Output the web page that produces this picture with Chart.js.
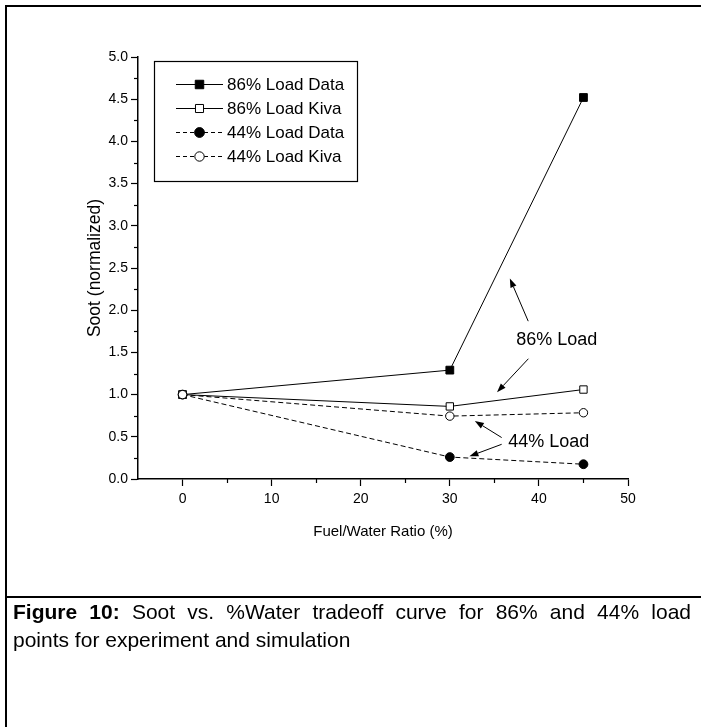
<!DOCTYPE html>
<html>
<head>
<meta charset="utf-8">
<script src="https://cdn.jsdelivr.net/npm/chart.js@4/dist/chart.umd.min.js"></script>
<style>
html,body{margin:0;padding:0;background:#fff;}
#wrap{position:relative;width:701px;height:727px;overflow:hidden;background:#fff;font-family:"Liberation Sans",Arial,Helvetica,sans-serif;}
#c{position:absolute;left:0;top:0;}
.ln{position:absolute;background:#000;}
#cap{position:absolute;left:13px;top:598px;width:678px;font-size:21px;line-height:28px;color:#000;}
#cap .l1{text-align:justify;text-align-last:justify;white-space:nowrap;}
</style>
</head>
<body>
<div id="wrap">
  <canvas id="c" width="701" height="727"></canvas>
  <div class="ln" style="left:5px;top:5px;width:696px;height:2px;"></div>
  <div class="ln" style="left:5px;top:5px;width:2px;height:722px;"></div>
  <div class="ln" style="left:5px;top:596px;width:696px;height:2px;"></div>
  <div id="cap">
    <div class="l1"><b>Figure 10:</b> Soot vs. %Water tradeoff curve for 86% and 44% load</div>
    <div>points for experiment and simulation</div>
  </div>
</div>
<script>
// ---- data ----
const xValues = [0, 30, 45];
const load86Data = [1.00, 1.29, 4.52];
const load86Kiva = [1.00, 0.86, 1.06];
const load44Data = [1.00, 0.26, 0.175];
const load44Kiva = [1.00, 0.745, 0.785];
const seriesLabels = ['86% Load Data', '86% Load Kiva', '44% Load Data', '44% Load Kiva'];
const xTicks = [0, 10, 20, 30, 40, 50];
const xMinorTicks = [5, 15, 25, 35, 45];
const yTicks = [0, 0.5, 1.0, 1.5, 2.0, 2.5, 3.0, 3.5, 4.0, 4.5, 5.0];
const yMinorTicks = [0.25, 0.75, 1.25, 1.75, 2.25, 2.75, 3.25, 3.75, 4.25, 4.75];
const xTitle = 'Fuel/Water Ratio (%)';
const yTitle = 'Soot (normalized)';
// annotation labels (data coordinates) and their arrows [tailX, tailY, headX, headY]
const noteLabels = ['86% Load', '44% Load'];
const notePos = [[42.0, 1.65], [41.1, 0.441]];
const noteArrows = [
  [[38.8, 1.87, 36.74, 2.376], [38.82, 1.425, 35.3, 1.028]],
  [[35.82, 0.491, 32.81, 0.688], [35.82, 0.411, 32.2, 0.269]]
];

const FONT = '"Liberation Sans", Arial, Helvetica, sans-serif';
const toPts = arr => xValues.map((x, i) => ({x: x, y: arr[i]}));

const datasets = [
  {label: seriesLabels[0], data: toPts(load86Data), borderColor: '#000', borderWidth: 1, borderDash: [],
   pointStyle: 'rect', pointRadius: 5.5, pointBackgroundColor: '#000', pointBorderColor: '#000', pointBorderWidth: 1, order: 3},
  {label: seriesLabels[1], data: toPts(load86Kiva), borderColor: '#000', borderWidth: 1, borderDash: [],
   pointStyle: 'rect', pointRadius: 5.2, pointBackgroundColor: '#fff', pointBorderColor: '#000', pointBorderWidth: 1, order: 1},
  {label: seriesLabels[2], data: toPts(load44Data), borderColor: '#000', borderWidth: 1, borderDash: [5, 3],
   pointStyle: 'circle', pointRadius: 4.4, pointBackgroundColor: '#000', pointBorderColor: '#000', pointBorderWidth: 1, order: 2},
  {label: seriesLabels[3], data: toPts(load44Kiva), borderColor: '#000', borderWidth: 1, borderDash: [5, 3],
   pointStyle: 'circle', pointRadius: 4.2, pointBackgroundColor: '#fff', pointBorderColor: '#000', pointBorderWidth: 1, order: 0}
];
datasets.forEach(d => { d.fill = false; d.tension = 0; d.showLine = true; d.pointHoverRadius = d.pointRadius; });

function markPoint(ctx, style, r, x, y, fillC, strokeC, bw) {
  ctx.save();
  ctx.setLineDash([]);
  ctx.fillStyle = fillC; ctx.strokeStyle = strokeC; ctx.lineWidth = bw;
  ctx.beginPath();
  if (style === 'rect') {
    const s = Math.SQRT1_2 * r;
    ctx.rect(x - s, y - s, 2 * s, 2 * s);
  } else {
    ctx.arc(x, y, r, 0, Math.PI * 2);
  }
  ctx.fill(); ctx.stroke();
  ctx.restore();
}

function arrow(ctx, x1, y1, x2, y2) {
  const a = Math.atan2(y2 - y1, x2 - x1);
  const L = 9, W = 3.2;
  const bx = x2 - L * Math.cos(a), by = y2 - L * Math.sin(a);
  ctx.beginPath(); ctx.moveTo(x1, y1); ctx.lineTo(bx, by); ctx.stroke();
  ctx.beginPath();
  ctx.moveTo(x2, y2);
  ctx.lineTo(bx + W * Math.sin(a), by - W * Math.cos(a));
  ctx.lineTo(bx - W * Math.sin(a), by + W * Math.cos(a));
  ctx.closePath(); ctx.fill();
}

const extras = {
  id: 'extras',
  afterDraw(chart) {
    const ctx = chart.ctx, xs = chart.scales.x, ys = chart.scales.y;
    ctx.save();
    // minor ticks
    ctx.strokeStyle = '#000'; ctx.lineWidth = 1.2; ctx.setLineDash([]);
    xMinorTicks.forEach(v => {
      const px = Math.round(xs.getPixelForValue(v)) + 0.5;
      ctx.beginPath(); ctx.moveTo(px, ys.bottom); ctx.lineTo(px, ys.bottom + 4); ctx.stroke();
    });
    yMinorTicks.forEach(v => {
      const py = Math.round(ys.getPixelForValue(v)) + 0.5;
      ctx.beginPath(); ctx.moveTo(xs.left, py); ctx.lineTo(xs.left - 4, py); ctx.stroke();
    });
    // annotations
    ctx.fillStyle = '#000'; ctx.strokeStyle = '#000'; ctx.lineWidth = 1;
    ctx.font = '18px ' + FONT; ctx.textAlign = 'center'; ctx.textBaseline = 'middle';
    noteLabels.forEach((t, i) => {
      ctx.fillText(t, xs.getPixelForValue(notePos[i][0]), ys.getPixelForValue(notePos[i][1]));
      noteArrows[i].forEach(a => arrow(ctx, xs.getPixelForValue(a[0]), ys.getPixelForValue(a[1]),
                                           xs.getPixelForValue(a[2]), ys.getPixelForValue(a[3])));
    });
    // legend
    const L = {left: 154.5, top: 61.5, w: 203, h: 120, row0: 84, dy: 24, lx0: 176, lx1: 223, mx: 199.5, tx: 227};
    ctx.lineWidth = 1.2; ctx.strokeRect(L.left, L.top, L.w, L.h);
    ctx.textAlign = 'left';
    ctx.font = '17px ' + FONT;
    chart.data.datasets.forEach((ds, i) => {
      const y = Math.round(L.row0 + i * L.dy) + 0.5;
      ctx.save();
      ctx.lineWidth = ds.borderWidth; ctx.setLineDash(ds.borderDash.length ? [4, 3] : []);
      ctx.beginPath(); ctx.moveTo(L.lx0, y); ctx.lineTo(L.lx1, y); ctx.stroke();
      ctx.restore();
      markPoint(ctx, ds.pointStyle, ds.pointRadius + 0.5, L.mx, y, ds.pointBackgroundColor, ds.pointBorderColor, ds.pointBorderWidth);
      ctx.fillStyle = '#000';
      ctx.fillText(ds.label, L.tx, y + 1);
    });
    ctx.restore();
  }
};

new Chart(document.getElementById('c'), {
  type: 'scatter',
  data: {datasets: datasets},
  options: {
    responsive: false, animation: false, devicePixelRatio: 1,
    layout: {padding: {left: 0, top: 57, right: 73, bottom: 186}},
    plugins: {legend: {display: false}, tooltip: {enabled: false}},
    scales: {
      x: {
        type: 'linear', min: -5, max: 50,
        afterBuildTicks: s => { s.ticks = xTicks.map(v => ({value: v})); },
        afterFit: s => { s.height = 62; },
        grid: {drawOnChartArea: false, drawTicks: true, tickLength: 7, tickColor: '#000', tickWidth: 1.2},
        border: {display: true, color: '#000', width: 1.5},
        ticks: {color: '#000', font: {family: FONT, size: 14}, padding: 5, maxRotation: 0, autoSkip: false,
                callback: v => String(v)},
        title: {display: true, text: xTitle, color: '#000', font: {family: FONT, size: 15}, padding: {top: 0, bottom: 0}}
      },
      y: {
        type: 'linear', min: 0, max: 5,
        afterBuildTicks: s => { s.ticks = yTicks.map(v => ({value: v})); },
        afterFit: s => { s.width = 138; },
        grid: {drawOnChartArea: false, drawTicks: true, tickLength: 7, tickColor: '#000', tickWidth: 1.2},
        border: {display: true, color: '#000', width: 1.5},
        ticks: {color: '#000', font: {family: FONT, size: 14}, padding: 3, autoSkip: false,
                callback: v => Number(v).toFixed(1)},
        title: {display: true, text: yTitle, color: '#000', font: {family: FONT, size: 17.5}, padding: {top: 85, bottom: 0}}
      }
    }
  },
  plugins: [extras]
});
</script>
</body>
</html>
